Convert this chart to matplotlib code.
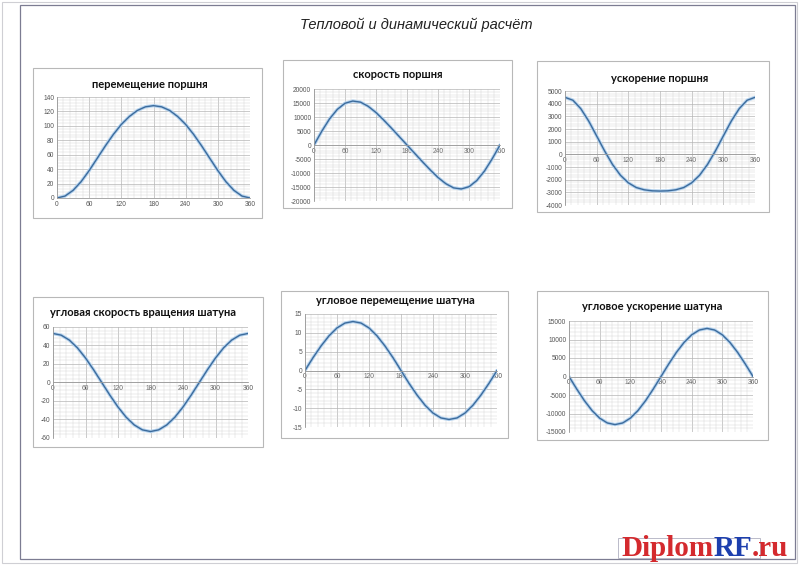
import numpy as np
import matplotlib
matplotlib.use('Agg')
import matplotlib.pyplot as plt
from matplotlib.patches import Rectangle
from matplotlib.ticker import MultipleLocator, AutoMinorLocator

plt.rcParams['axes.unicode_minus'] = False

# угол поворота кривошипа, шаг 15 град
phi = [0, 15, 30, 45, 60, 75, 90, 105, 120, 135, 150, 165, 180,
       195, 210, 225, 240, 255, 270, 285, 300, 315, 330, 345, 360]

# перемещение поршня
s_p = [0, 2.7, 10.6, 22.7, 38, 55, 72, 88, 102, 113, 121.4, 126.4, 128,
       126.4, 121.4, 113, 102, 88, 72, 55, 38, 22.7, 10.6, 2.7, 0]
# скорость поршня
v_p = [0, 4900, 9300, 12700, 14900, 15700, 15300, 13800, 11600, 8900, 6000, 3000, 0,
       -3000, -6000, -8900, -11600, -13800, -15300, -15700, -14900, -12700, -9300, -4900, 0]
# ускорение поршня
j_p = [4500, 4270, 3600, 2620, 1450, 270, -800, -1650, -2250, -2620, -2800, -2880, -2900,
       -2880, -2800, -2620, -2250, -1650, -800, 270, 1450, 2620, 3600, 4270, 4500]
# угловая скорость вращения шатуна
w_sh = [53, 51.2, 45.9, 37.5, 26.5, 13.7, 0, -13.7, -26.5, -37.5, -45.9, -51.2, -53,
        -51.2, -45.9, -37.5, -26.5, -13.7, 0, 13.7, 26.5, 37.5, 45.9, 51.2, 53]
# угловое перемещение шатуна
b_sh = [0, 3.4, 6.5, 9.2, 11.3, 12.6, 13, 12.6, 11.3, 9.2, 6.5, 3.4, 0,
        -3.4, -6.5, -9.2, -11.3, -12.6, -13, -12.6, -11.3, -9.2, -6.5, -3.4, 0]
# угловое ускорение шатуна
e_sh = [0, -3360, -6500, -9190, -11260, -12560, -13000, -12560, -11260, -9190, -6500, -3360, 0,
        3360, 6500, 9190, 11260, 12560, 13000, 12560, 11260, 9190, 6500, 3360, 0]

titles = ['перемещение поршня', 'скорость поршня', 'ускорение поршня',
          'угловая скорость вращения шатуна', 'угловое перемещение шатуна',
          'угловое ускорение шатуна']
series = [s_p, v_p, j_p, w_sh, b_sh, e_sh]
y_lims = [(0, 140, 20), (-20000, 20000, 5000), (-4000, 5000, 1000),
          (-60, 60, 20), (-15, 15, 5), (-15000, 15000, 5000)]
x_ticks = [0, 60, 120, 180, 240, 300, 360]

# раскладка в пикселях: рамка диаграммы, область построения, заголовок
W, H = 800, 565
boxes = [(33, 68, 262, 218), (283, 60, 512, 208), (537, 61, 769, 212),
         (33, 297, 263, 447), (281, 291, 508, 438), (537, 291, 768, 440)]
plots = [(57, 97, 250, 198), (314, 89, 500, 201), (565, 91, 755, 205),
         (53, 327, 248, 438), (305, 314, 497, 427), (569, 321, 753, 432)]
title_pos = [(150, 85), (398, 75), (660, 79), (143, 313), (395, 301), (652, 307)]

fig = plt.figure(figsize=(8, 5.65), dpi=100)
fig.patch.set_facecolor('white')

def fx(x):
    return x / W

def fy(y):
    return 1 - y / H

# рамка листа
fig.add_artist(Rectangle((fx(2), fy(563)), fx(795), 561 / H, transform=fig.transFigure,
                         fill=False, ec='#cfcfd4', lw=0.8))
fig.add_artist(Rectangle((fx(20), fy(559)), fx(775), 554 / H, transform=fig.transFigure,
                         fill=False, ec='#7c7c92', lw=0.9))
fig.text(fx(416), fy(25), 'Тепловой и динамический расчёт', ha='center', va='center',
         fontsize=10.5, style='italic', family='Liberation Sans', color='#222222')

for i in range(6):
    x0, y0, x1, y1 = boxes[i]
    fig.add_artist(Rectangle((fx(x0), fy(y1)), (x1 - x0) / W, (y1 - y0) / H,
                             transform=fig.transFigure, fill=False, ec='#b8b8b8', lw=0.8))
    px0, py0, px1, py1 = plots[i]
    ax = fig.add_axes([fx(px0), fy(py1), (px1 - px0) / W, (py1 - py0) / H])
    lo, hi, st = y_lims[i]
    ax.plot(phi, series[i], color='#b4d2ee', lw=2.4, solid_capstyle='round')
    ax.plot(phi, series[i], color='#3c6b9c', lw=1.0)
    ax.set_xlim(0, 360)
    ax.set_ylim(lo, hi)
    ax.set_xticks(x_ticks)
    ax.yaxis.set_major_locator(MultipleLocator(st))
    ax.xaxis.set_minor_locator(AutoMinorLocator(5))
    ax.yaxis.set_minor_locator(AutoMinorLocator(5))
    ax.grid(which='major', color='#b5b5b5', lw=0.5)
    ax.grid(which='minor', color='#d6d6d6', lw=0.35)
    ax.set_axisbelow(True)
    for sp in ['top', 'right']:
        ax.spines[sp].set_visible(False)
    ax.spines['left'].set_color('#9a9a9a')
    ax.spines['left'].set_linewidth(0.6)
    ax.spines['bottom'].set_color('#9a9a9a')
    ax.spines['bottom'].set_linewidth(0.6)
    if lo < 0:
        ax.spines['bottom'].set_position(('data', 0))
    ax.tick_params(which='both', length=0, labelsize=4.8, labelcolor='#555555', pad=2)
    for lab in ax.get_xticklabels() + ax.get_yticklabels():
        lab.set_family('Liberation Sans')
    tx, ty = title_pos[i]
    fig.text(fx(tx), fy(ty), titles[i], ha='center', va='center', fontsize=8,
             fontweight='bold', family='Lato', color='#111111')

# штамп и водяной знак
fig.add_artist(Rectangle((fx(618), fy(558)), 142 / W, 20 / H, transform=fig.transFigure,
                         fill=False, ec='#b0b0c0', lw=0.6))
fig.canvas.draw()
renderer = fig.canvas.get_renderer()
xpos = 621
for part, col in [('Diplom', '#d42a2e'), ('RF', '#1d3fae'), ('.ru', '#d42a2e')]:
    t = fig.text(fx(xpos), fy(556), part, ha='left', va='baseline', fontsize=21,
                 fontweight='bold', family='Liberation Serif', color=col)
    xpos += t.get_window_extent(renderer).width

fig.savefig('out.png', dpi=100)
